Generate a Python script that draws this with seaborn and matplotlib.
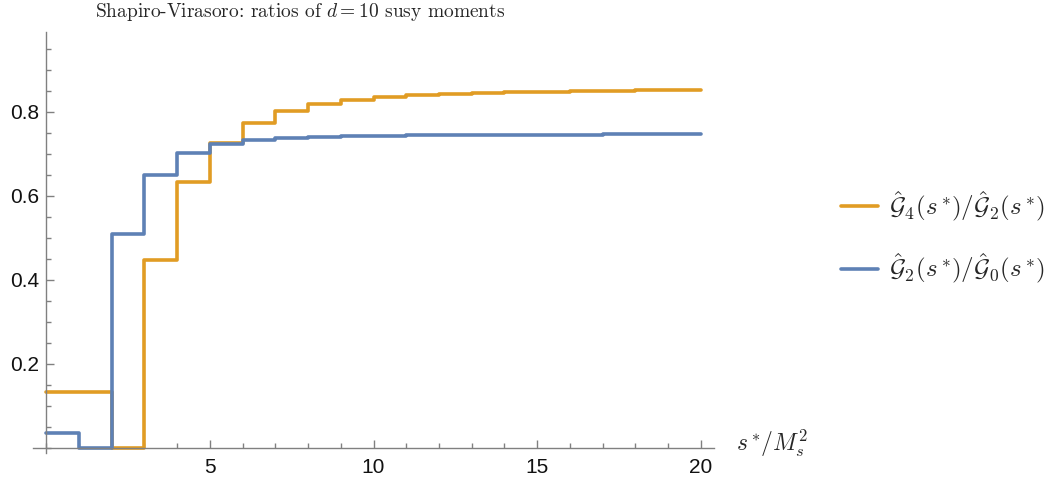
import numpy as np
import pandas as pd
import matplotlib
matplotlib.use("Agg")
import matplotlib.pyplot as plt
import seaborn as sns
from matplotlib.ticker import MultipleLocator, FixedLocator
from matplotlib.lines import Line2D

# ---- data (step values on intervals [k, k+1), k = 0..19) ----
s_edges = list(range(0, 21))
g4_over_g2 = [0.133, 0.133, 0.0, 0.448, 0.633, 0.727, 0.774, 0.802, 0.819, 0.829,
              0.836, 0.840, 0.843, 0.845, 0.847, 0.848, 0.849, 0.850, 0.851, 0.852]
g2_over_g0 = [0.036, 0.0, 0.509, 0.649, 0.701, 0.724, 0.733, 0.738, 0.741, 0.742,
              0.743, 0.744, 0.745, 0.745, 0.746, 0.746, 0.746, 0.747, 0.747, 0.747]
series_labels = [r"$\hat{\mathcal{G}}_4(s^*\!)/\hat{\mathcal{G}}_2(s^*\!)$",
                 r"$\hat{\mathcal{G}}_2(s^*\!)/\hat{\mathcal{G}}_0(s^*\!)$"]
y_tick_vals = [0.2, 0.4, 0.6, 0.8]
y_tick_labels = ["0.2", "0.4", "0.6", "0.8"]
x_tick_vals = [5, 10, 15, 20]
x_tick_labels = ["5", "10", "15", "20"]
title_text = r"Shapiro-Virasoro: ratios of $d=10$ susy moments"
x_label = r"$s^*\!/M_s^2$"

colors = ["#E19C24", "#5E81B5"]

sns.set_theme(style="white")
plt.rcParams["font.family"] = ["Liberation Sans", "DejaVu Sans"]
plt.rcParams["mathtext.fontset"] = "cm"

rows = []
for lab, vals in zip(series_labels, [g4_over_g2, g2_over_g0]):
    ys = list(vals) + [vals[-1]]
    for x, y in zip(s_edges, ys):
        rows.append({"s": x, "ratio": y, "series": lab})
df = pd.DataFrame(rows)

fig = plt.figure(figsize=(10.5, 4.82), dpi=100)
ax = fig.add_axes([33 / 1050, 1 - 453 / 482, (714 - 33) / 1050, (453 - 32) / 482])

sns.lineplot(data=df, x="s", y="ratio", hue="series", palette=colors,
             drawstyle="steps-post", linewidth=2.6, ax=ax, legend=False,
             estimator=None, sort=False)

ax.set_xlim(-0.4, 20.4)
ax.set_ylim(-0.012, 0.99)

for side in ["top", "right"]:
    ax.spines[side].set_visible(False)
ax.spines["left"].set_position(("data", 0))
ax.spines["bottom"].set_position(("data", 0))
for side in ["left", "bottom"]:
    ax.spines[side].set_color("#808080")
    ax.spines[side].set_linewidth(1.0)

ax.xaxis.set_major_locator(FixedLocator(x_tick_vals))
ax.set_xticklabels(x_tick_labels)
ax.xaxis.set_minor_locator(MultipleLocator(1))
ax.yaxis.set_major_locator(FixedLocator(y_tick_vals))
ax.set_yticklabels(y_tick_labels)
ax.yaxis.set_minor_locator(MultipleLocator(0.05))

ax.tick_params(axis="both", which="major", direction="in", length=6, width=1,
               color="#808080", labelsize=15, labelcolor="#111111")
ax.tick_params(axis="both", which="minor", direction="in", length=3.5, width=1,
               color="#808080")
ax.tick_params(axis="x", which="major", pad=7)
ax.tick_params(axis="y", which="major", pad=5)
ax.tick_params(axis="both", which="both", bottom=True, left=True)
ax.set_xlabel("")
ax.set_ylabel("")

# axis label at end of x axis
ax.text(772 / 1050, 1 - 443 / 482, x_label, transform=fig.transFigure,
        fontsize=17, ha="center", va="center")

# title
fig.text(300 / 1050, 1 - 12 / 482, title_text, fontsize=14,
         family=["cmr10", "DejaVu Serif"], ha="center", va="center")

# legend
handles = [Line2D([0], [0], color=c, lw=2.6) for c in colors]
leg = fig.legend(handles, series_labels, loc="center left",
                 bbox_to_anchor=(818 / 1050, 1 - 238 / 482), frameon=False,
                 fontsize=18, handlelength=1.5, handletextpad=0.45,
                 labelspacing=1.15)

fig.savefig("out.png", dpi=100)
